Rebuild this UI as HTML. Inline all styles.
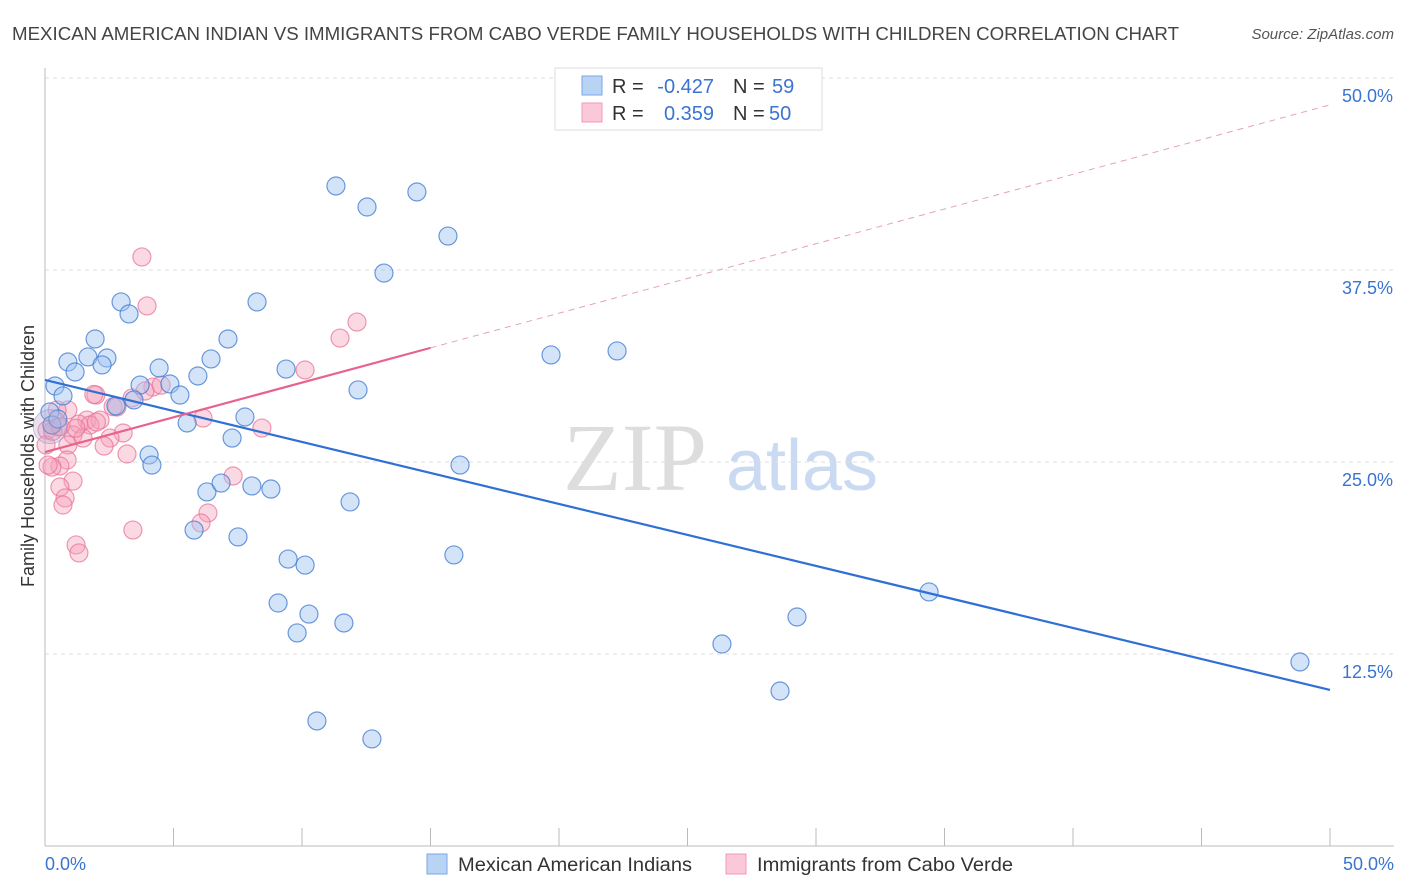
<!DOCTYPE html>
<html><head><meta charset="utf-8"><style>
body{margin:0;background:#fff;font-family:"Liberation Sans",sans-serif;}
#wrap{position:relative;width:1406px;height:892px;overflow:hidden;}
</style></head><body>
<div id="wrap">
<svg id="chart" width="1406" height="892" xmlns="http://www.w3.org/2000/svg">
<text x="12" y="40" font-size="18" fill="#444" textLength="1167" lengthAdjust="spacingAndGlyphs">MEXICAN AMERICAN INDIAN VS IMMIGRANTS FROM CABO VERDE FAMILY HOUSEHOLDS WITH CHILDREN CORRELATION CHART</text>
<text x="1394" y="39" font-size="15" fill="#555" font-style="italic" text-anchor="end">Source: ZipAtlas.com</text>
<text transform="translate(34,456) rotate(-90)" font-size="18" fill="#333" text-anchor="middle">Family Households with Children</text>
<g>
<text x="635" y="490" font-size="96" fill="#ddd" font-family="Liberation Serif,serif" text-anchor="middle">ZIP</text>
<text x="802" y="490" font-size="72" fill="#c9daf2" text-anchor="middle">atlas</text>
</g>
<g id="grid"></g>
<g id="axes"></g>
<g id="pts"></g>
<g id="lines"></g>
<g font-size="20">
<rect x="555" y="68" width="267" height="62" fill="#fff" stroke="#ddd"/>
<rect x="582" y="76" width="20" height="19" fill="#b9d3f5" stroke="#7aa6e6"/>
<rect x="582" y="103" width="20" height="19" fill="#fbc8d7" stroke="#f09ab4"/>
<text x="612" y="93" fill="#333">R =</text>
<text x="714" y="93" fill="#3a74d0" text-anchor="end">-0.427</text>
<text x="733" y="93" fill="#333">N =</text>
<text x="772" y="93" fill="#3a74d0">59</text>
<text x="612" y="120" fill="#333">R =</text>
<text x="714" y="120" fill="#3a74d0" text-anchor="end">0.359</text>
<text x="733" y="120" fill="#333">N =</text>
<text x="769" y="120" fill="#3a74d0">50</text>
</g>
<g font-size="19">
<rect x="427" y="854" width="20" height="20" fill="#b9d3f5" stroke="#7aa6e6"/>
<text x="458" y="871" fill="#333" textLength="234" lengthAdjust="spacingAndGlyphs">Mexican American Indians</text>
<rect x="726" y="854" width="20" height="20" fill="#fbc8d7" stroke="#f09ab4"/>
<text x="757" y="871" fill="#333" textLength="256" lengthAdjust="spacingAndGlyphs">Immigrants from Cabo Verde</text>
</g>
</svg>
</div>
<script>
const yTicks=[12.5,25,37.5,50];
const yTickLabels=["12.5%","25.0%","37.5%","50.0%"];
const xTickCount=10;
const blueX=[11.32,12.53,14.47,15.68,13.19,8.25,2.96,3.27,1.95,7.12,0.89,1.67,2.41,1.17,2.22,4.44,6.46,9.38,5.95,0.39,3.70,4.86,0.70,5.25,3.46,2.76,12.18,19.69,22.26,5.53,7.78,7.28,4.05,4.16,16.15,6.30,6.85,8.05,8.79,11.87,5.80,7.51,9.46,10.12,15.91,9.07,10.27,9.81,11.63,34.40,29.26,26.34,28.60,48.83,10.58,12.72,0.19,0.27,0.5];
const blueY=[42.97,41.60,42.58,39.71,37.30,35.42,35.42,34.64,33.01,33.01,31.51,31.84,31.77,30.86,31.32,31.12,31.71,31.05,30.60,29.95,30.01,30.08,29.30,29.36,29.04,28.65,29.69,31.97,32.23,27.54,27.93,26.56,25.46,24.80,24.80,23.05,23.63,23.44,23.24,22.40,20.57,20.12,18.68,18.29,18.95,15.82,15.10,13.87,14.52,16.54,14.91,13.15,10.09,11.98,8.14,6.97,28.26,27.41,27.8];
const pinkX=[3.77,3.97,12.14,11.48,10.12,4.20,3.89,1.98,3.39,2.80,0.89,0.47,1.63,2.14,1.32,0.51,0.08,0.27,1.75,3.04,1.09,1.48,2.53,2.30,8.44,6.15,3.19,0.89,0.04,0.86,0.58,0.27,1.09,0.58,0.78,0.70,7.32,6.34,6.07,3.42,1.21,1.32,0.12,2.65,4.52,1.9,0.3,2.0,0.6,1.2];
const pinkY=[38.35,35.16,34.11,33.07,30.99,29.88,29.62,29.36,29.17,28.58,28.39,28.39,27.73,27.73,27.47,27.28,27.08,27.41,27.41,26.89,26.76,26.56,26.56,26.04,27.21,27.86,25.52,26.11,26.11,25.13,24.74,24.67,23.76,23.37,22.66,22.20,24.09,21.68,21.03,20.57,19.60,19.08,24.80,28.6,30.0,29.4,27.0,27.6,27.3,27.2];
const blueLine=[30.34,10.16];
const pinkLine=[25.65,48.25];
const pinkSolidEnd=15;
const NS="http://www.w3.org/2000/svg";
const X=v=>45+v/50*1285;
const Y=v=>846-v/50*768;
function mk(t,a,p){const e=document.createElementNS(NS,t);for(const k in a)e.setAttribute(k,a[k]);p.appendChild(e);return e;}
const grid=document.getElementById('grid'),axes=document.getElementById('axes'),pts=document.getElementById('pts'),lines=document.getElementById('lines');
yTicks.forEach((t,i)=>{
 const g=mk('line',{x1:45,x2:1394,y1:Y(t),y2:Y(t),stroke:'#ddd','stroke-dasharray':'4,4'},grid);
 
 
 const l=mk('text',{x:1393,y:Y(t)+24,'font-size':18,fill:'#3a74d0','text-anchor':'end'},axes);
 l.textContent=yTickLabels[i];
 
 
});
let a=mk('line',{x1:45,x2:45,y1:68,y2:846,stroke:'#bbb'},axes);


a=mk('line',{x1:45,x2:1394,y1:846,y2:846,stroke:'#bbb'},axes);


for(let i=0;i<=xTickCount;i++){
 const x=X(i*50/xTickCount);
 const t=mk('line',{x1:x,x2:x,y1:828,y2:846,stroke:'#bbb'},axes);
 
 
}
let xl=mk('text',{x:45,y:870,'font-size':18,fill:'#3a74d0'},axes);xl.textContent='0.0%';


xl=mk('text',{x:1394,y:870,'font-size':18,fill:'#3a74d0','text-anchor':'end'},axes);xl.textContent='50.0%';


pinkX.forEach((v,i)=>{
 const c=mk('circle',{cx:X(v),cy:Y(pinkY[i]),r:9,fill:'rgba(246,160,186,0.4)',stroke:'rgba(232,110,150,0.7)','stroke-width':1.2},pts);
 
 
});
blueX.forEach((v,i)=>{
 const c=mk('circle',{cx:X(v),cy:Y(blueY[i]),r:9,fill:'rgba(160,195,240,0.45)',stroke:'rgba(60,120,210,0.75)','stroke-width':1.2},pts);
 
 
});
let big=mk('circle',{cx:X(0.2),cy:Y(27.3),r:17,fill:'rgba(190,170,210,0.35)',stroke:'rgba(150,140,200,0.5)'},pts);


let ln=mk('line',{x1:X(0),y1:Y(blueLine[0]),x2:X(50),y2:Y(blueLine[1]),stroke:'#2f6fd6','stroke-width':2.2},lines);


const py=v=>pinkLine[0]+(pinkLine[1]-pinkLine[0])*v/50;
ln=mk('line',{x1:X(0),y1:Y(py(0)),x2:X(pinkSolidEnd),y2:Y(py(pinkSolidEnd)),stroke:'#e8628e','stroke-width':2.2},lines);


ln=mk('line',{x1:X(pinkSolidEnd),y1:Y(py(pinkSolidEnd)),x2:X(50),y2:Y(py(50)),stroke:'#e8a0b8','stroke-width':1,'stroke-dasharray':'6,5'},lines);


</script>
</body></html>
